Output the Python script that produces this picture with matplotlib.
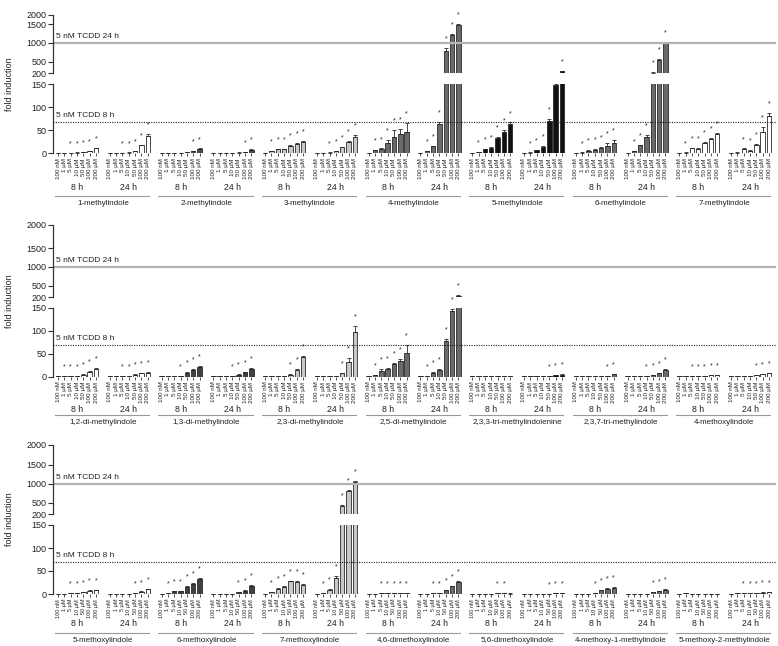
import numpy as np
import matplotlib
matplotlib.use('Agg')
import matplotlib.pyplot as plt
from matplotlib.transforms import blended_transform_factory

plt.rcParams['font.family'] = ['Liberation Sans', 'DejaVu Sans']

# ------------------------------------------
# data (fold induction)
# each row: 14 groups = 7 compounds x (8 h, 24 h), 7 concentrations each
# ------------------------------------------
conc_labels = ['100 nM', '1 µM', '5 µM', '10 µM', '50 µM', '100 µM', '200 µM']
time_labels = ['8 h', '24 h']
tcdd_8h = 69
tcdd_24h = 1000

row1_names = ['1-methylindole', '2-methylindole', '3-methylindole', '4-methylindole',
              '5-methylindole', '6-methylindole', '7-methylindole']
row1_fold = [
    [1, 1, 1, 1.5, 3, 5, 11],
    [1, 1, 1, 1.5, 4, 17, 38],
    [1, 1, 1, 1.5, 2, 4, 9],
    [1, 1, 1, 1, 1.5, 3, 7],
    [1, 4, 9, 9.5, 16, 20, 25],
    [1, 1, 1.5, 4, 13, 25, 35],
    [1, 7, 9.5, 23, 35, 41, 47],
    [1, 4, 15, 64, 800, 1200, 1480],
    [1, 2, 9, 12, 33, 47, 63],
    [1, 1.5, 6.5, 14, 71, 148, 250],
    [1, 1.5, 6, 8, 12, 16, 23],
    [1, 4, 17, 36, 215, 560, 1000],
    [1, 1.5, 11, 10, 22, 31, 42],
    [1, 1.5, 9.5, 6, 18, 46, 81],
]
row1_err = [
    [0, 0, 0, 0.3, 0.5, 0.8, 1.5],
    [0, 0, 0, 0.3, 0.8, 1.5, 3],
    [0, 0, 0, 0.2, 0.3, 0.8, 1.5],
    [0, 0, 0, 0, 0.3, 0.8, 1.5],
    [0, 0.5, 0.8, 0.8, 1.2, 1.5, 2],
    [0, 0, 0.3, 0.5, 1.5, 2, 4],
    [0, 1, 1, 6, 15, 12, 18],
    [0, 0.5, 1.5, 4, 60, 40, 40],
    [0, 0.3, 1, 1, 2, 4, 4],
    [0, 0.3, 0.8, 1, 4, 2, 15],
    [0, 0.3, 1, 1, 2, 6, 6],
    [0, 0.5, 1.5, 4, 20, 30, 20],
    [0, 0.3, 1, 1, 2, 2, 3],
    [0, 0.3, 1, 1, 3, 12, 6],
]
row1_sig = ['0011111', '0011111', '0000011', '0000011', '0111111', '0011111', '0111111',
            '0111111', '0111111', '0111101', '0111111', '0111111', '0111111', '0011111']

row2_names = ['1,2-di-methylindole', '1,3-di-methylindole', '2,3-di-methylindole',
              '2,5-di-methylindole', '2,3,3-tri-methylindolenine', '2,3,7-tri-methylindole',
              '4-methoxylindole']
row2_fold = [
    [1, 1, 1, 1.5, 4.5, 11, 17],
    [1, 1, 1.5, 2, 4.5, 7, 9],
    [1, 1, 1, 2, 9, 15, 22],
    [1, 1, 1, 1.5, 4.5, 10, 17],
    [1, 1, 1, 1, 4.5, 15, 43],
    [1, 1, 1, 1, 8, 32, 98],
    [1, 3, 12.5, 17, 27, 35, 51],
    [1, 2, 9, 15, 77, 143, 235],
    [1, 1, 1, 1, 1, 1.5, 1],
    [1, 1, 1, 1, 1, 3.5, 4.5],
    [1, 1, 1, 1, 1, 2, 6],
    [1, 1, 1, 1.5, 3, 7, 15],
    [1, 1.5, 2, 2, 2, 3, 3],
    [1, 1, 1, 1, 3, 5, 8],
]
row2_err = [
    [0, 0, 0, 0.2, 0.5, 1, 1.5],
    [0, 0, 0.2, 0.3, 0.5, 0.8, 1],
    [0, 0, 0, 0.3, 1, 1.5, 1.5],
    [0, 0, 0, 0.3, 0.5, 1, 1.5],
    [0, 0, 0, 0, 0.5, 1.5, 2],
    [0, 0, 0, 0, 1, 8, 12],
    [0, 0.5, 4, 2, 2, 3, 18],
    [0, 0.3, 1, 1, 6, 5, 20],
    [0, 0, 0, 0, 0, 0.2, 0],
    [0, 0, 0, 0, 0, 0.5, 0.5],
    [0, 0, 0, 0, 0, 0.3, 0.8],
    [0, 0, 0, 0.2, 0.3, 0.8, 1.5],
    [0, 0, 0.3, 0.3, 0.3, 0.3, 0.3],
    [0, 0, 0, 0, 0.3, 0.5, 0.8],
]
row2_sig = ['0111111', '0011111', '0001111', '0001111', '0000111', '0000111', '0111111',
            '0111111', '0000000', '0000111', '0000011', '0001111', '0011111', '0000111']

row3_names = ['5-methoxylindole', '6-methoxylindole', '7-methoxylindole', '4,6-dimethoxylindole',
              '5,6-dimethoxylindole', '4-methoxy-1-methylindole', '5-methoxy-2-methylindole']
row3_fold = [
    [1, 1, 1.5, 2, 3.5, 7, 8.5],
    [1, 1, 1, 1, 2, 5, 10],
    [1, 1.5, 6, 6.5, 16, 22, 32],
    [1, 1, 1, 1, 3.5, 7, 18],
    [1, 4, 11.5, 16, 28, 26, 20],
    [1, 1.5, 9, 35, 430, 820, 1050],
    [1, 1, 1.5, 1.5, 2, 2, 1.5],
    [1, 1, 1.5, 2, 8.5, 16.5, 26],
    [1, 1, 1, 1, 1.5, 1.5, 1],
    [1, 1, 1, 1, 1, 2, 2],
    [1, 1, 1, 1.5, 8.5, 11.5, 13.5],
    [1, 1, 1, 1, 3.5, 5.5, 9],
    [1, 1.5, 1, 1, 1, 1, 1],
    [1, 1.5, 1.5, 1.5, 2, 3, 4],
]
row3_err = [
    [0, 0, 0.2, 0.3, 0.3, 0.8, 0.8],
    [0, 0, 0, 0, 0.3, 0.5, 1],
    [0, 0.3, 0.8, 0.8, 1.5, 1.5, 2],
    [0, 0, 0, 0, 0.5, 0.8, 1.5],
    [0, 0.5, 1, 1, 1.2, 1.5, 2],
    [0, 0.3, 1, 4, 20, 30, 30],
    [0, 0, 0.3, 0.3, 0.3, 0.3, 0.3],
    [0, 0, 0.3, 0.3, 0.8, 1.5, 2],
    [0, 0, 0, 0, 0.2, 0.2, 0.2],
    [0, 0, 0, 0, 0, 0.3, 0.3],
    [0, 0, 0, 0.3, 1, 1.5, 2],
    [0, 0, 0, 0, 0.5, 0.8, 1],
    [0, 0, 0, 0, 0, 0, 0],
    [0, 0, 0.2, 0.2, 0.3, 0.5, 0.8],
]
row3_sig = ['0011111', '0000111', '0111111', '0000111', '0111111', '0111111', '0011111',
            '0011111', '0000110', '0000111', '0001111', '0000111', '0000000', '0011111']

# bar fill per compound (styles, not data)
row1_colors = ['white', '#4a4a4a', '#c8c8c8', '#6a6a6a', '#111111', '#6a6a6a', 'white']
row2_colors = ['white', '#404040', '#c8c8c8', '#6a6a6a', '#111111', '#6a6a6a', 'white']
row3_colors = ['white', '#404040', '#c8c8c8', '#6a6a6a', '#111111', '#6a6a6a', 'white']

# ------------------------------------------
# layout, in pixels from the top of the figure
# (2000 tick, 200 tick, 150 tick, 0 tick, time labels, underline, names, tick font)
# ------------------------------------------
W, H = 778, 646
panel_px = [
    (15, 73.3, 84.3, 153.3, 187, 196, 203, 4.5),
    (225, 297.3, 307.7, 376.7, 409, 415, 422, 4.5),
    (445, 514.3, 525, 594, 623, 632.5, 640.5, 4.0),
]
LEFT, RIGHT = 53.3, 776
GROUP = 8.18          # group pitch in bar units
BAR_W = 0.7
EDGE = '#2a2a2a'
TXT = '#222222'


def fy(px):
    return 1 - px / H


fig = plt.figure(figsize=(W / 100, H / 100), dpi=100)

rows = [
    (row1_names, row1_fold, row1_err, row1_sig, row1_colors),
    (row2_names, row2_fold, row2_err, row2_sig, row2_colors),
    (row3_names, row3_fold, row3_err, row3_sig, row3_colors),
]

for (names, fold, err, sig, colors), px in zip(rows, panel_px):
    p2000, p200, p150, p0, p_time, p_line, p_name, tick_fs = px
    ax_hi = fig.add_axes([LEFT / W, fy(p200), (RIGHT - LEFT) / W, (p200 - p2000) / H])
    ax_lo = fig.add_axes([LEFT / W, fy(p0), (RIGHT - LEFT) / W, (p0 - p150) / H])

    # upper part: 200-1500 linear, 1500-2000 squeezed into what is left
    h_top = p200 - p2000
    fwd = lambda y, h=h_top: np.interp(y, [200, 1500, 2000], [0, 49.3, h])
    inv = lambda y, h=h_top: np.interp(y, [0, 49.3, h], [200, 1500, 2000])
    ax_hi.set_yscale('function', functions=(fwd, inv))
    ax_hi.set_ylim(200, 2000)
    ax_lo.set_ylim(0, 150)

    xs_all = []
    for g in range(14):
        xs = g * GROUP + np.arange(7)
        xs_all.extend(xs)
        vals = np.array(fold[g], dtype=float)
        errs = np.array(err[g], dtype=float)
        col = colors[g // 2]

        ax_lo.bar(xs, vals, width=BAR_W, color=col, edgecolor=EDGE, linewidth=0.6)
        low = vals <= 150
        ax_lo.errorbar(xs[low], vals[low], yerr=[np.zeros(low.sum()), errs[low]],
                       fmt='none', ecolor=EDGE, elinewidth=0.6, capsize=1.2, capthick=0.6)
        high = vals > 200
        if high.any():
            ax_hi.bar(xs[high], vals[high] - 200, bottom=200, width=BAR_W, color=col,
                      edgecolor=EDGE, linewidth=0.6)
            ax_hi.errorbar(xs[high], vals[high], yerr=[np.zeros(high.sum()), errs[high]],
                           fmt='none', ecolor=EDGE, elinewidth=0.6, capsize=1.2, capthick=0.6)

        for i in range(7):
            if sig[g][i] != '1':
                continue
            top = vals[i] + errs[i]
            target = ax_hi if vals[i] > 200 else ax_lo
            target.annotate('*', (xs[i], top), xytext=(0, 4), textcoords='offset points',
                            ha='center', va='bottom', fontsize=5, color=TXT,
                            annotation_clip=False)

    # reference lines for TCDD
    ax_hi.axhline(tcdd_24h, color='#b4b4b4', lw=1.6)
    ax_lo.axhline(tcdd_8h, color=TXT, lw=0.8, ls=(0, (1, 1.2)))
    ax_hi.annotate('5 nM TCDD 24 h', (0.004, tcdd_24h),
                   xycoords=blended_transform_factory(ax_hi.transAxes, ax_hi.transData),
                   xytext=(0, 2), textcoords='offset points', fontsize=6, color=TXT,
                   ha='left', va='bottom')
    ax_lo.annotate('5 nM TCDD 8 h', (0.004, tcdd_8h),
                   xycoords=blended_transform_factory(ax_lo.transAxes, ax_lo.transData),
                   xytext=(0, 2), textcoords='offset points', fontsize=6, color=TXT,
                   ha='left', va='bottom')

    # axes styling
    for a in (ax_hi, ax_lo):
        for s in ('top', 'right', 'bottom'):
            a.spines[s].set_visible(False)
        a.spines['left'].set_color('#333333')
        a.spines['left'].set_linewidth(0.9)
        a.tick_params(axis='y', labelsize=6.5, length=3.5, width=0.8, colors='#333333',
                      labelcolor=TXT, pad=1.5)
        a.set_facecolor('none')
        a.set_xlim(-0.75, 13 * GROUP + 6 + 1.1)
    ax_hi.set_yticks([200, 500, 1000, 1500, 2000])
    ax_lo.set_yticks([0, 50, 100, 150])
    ax_hi.set_xticks([])
    ax_lo.set_xticks(xs_all)
    ax_lo.set_xticklabels(conc_labels * 14, rotation=90, fontsize=tick_fs, color=TXT)
    ax_lo.tick_params(axis='x', length=2.5, width=0.6, colors='#333333', labelcolor=TXT, pad=1)

    # time labels, underline and compound names
    trans = blended_transform_factory(ax_lo.transData, fig.transFigure)
    for c, name in enumerate(names):
        x0 = 2 * c * GROUP
        for t, lab in enumerate(time_labels):
            ax_lo.text(x0 + t * GROUP + 3, fy(p_time), lab, transform=trans, ha='center',
                       va='center', fontsize=6.3, color=TXT)
        ax_lo.plot([x0 - 0.5, x0 + GROUP + 6.2], [fy(p_line)] * 2, transform=trans,
                   color='#9a9a9a', lw=0.8, clip_on=False)
        ax_lo.text(x0 + (GROUP + 6) / 2, fy(p_name), name, transform=trans, ha='center',
                   va='center', fontsize=5.8, color=TXT)
    ax_lo.set_xlim(-0.75, 13 * GROUP + 6 + 1.1)

    fig.text(10 / W, fy((p2000 + p0) / 2), 'fold induction', rotation=90, ha='center',
             va='center', fontsize=6.5, color=TXT)

fig.savefig('out.png', dpi=100)
